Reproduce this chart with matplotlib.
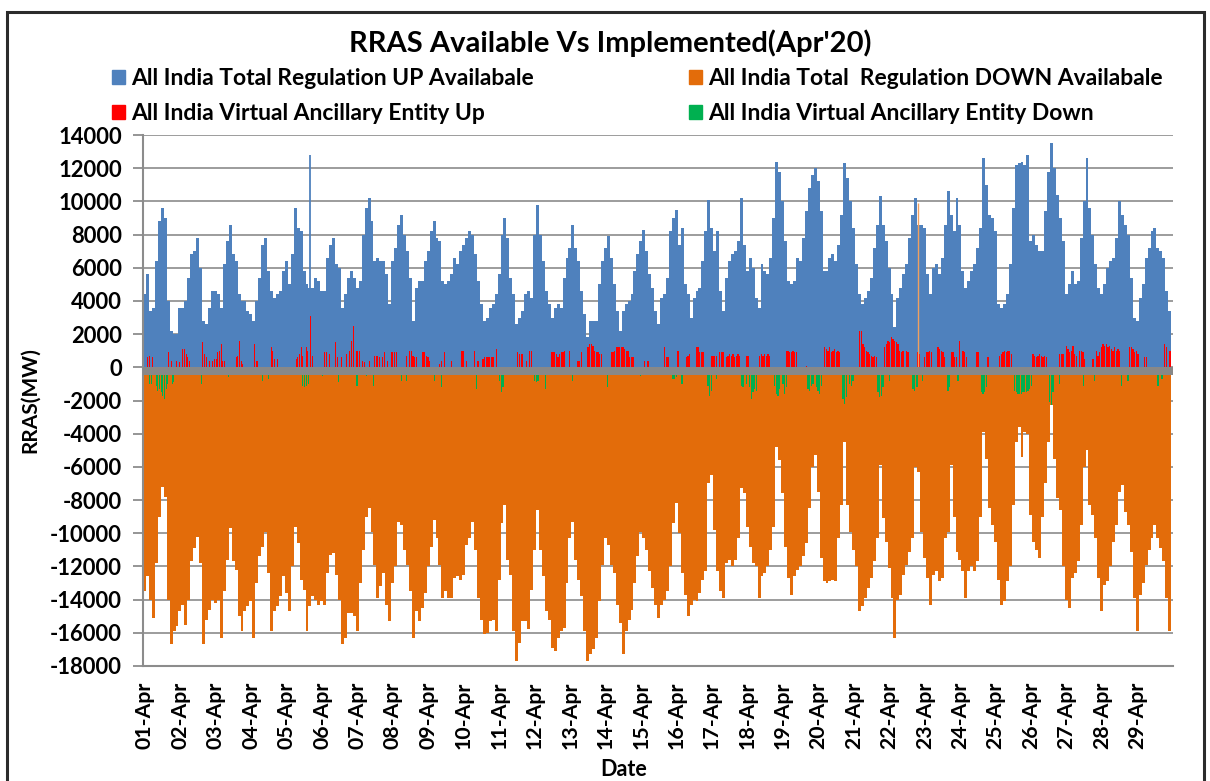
import numpy as np
import matplotlib
matplotlib.use("Agg")
import matplotlib.pyplot as plt
from matplotlib.patches import Rectangle, Patch

plt.rcParams['font.family'] = ['Lato', 'DejaVu Sans']
plt.rcParams['axes.unicode_minus'] = False

# ---------------- data (2-hour blocks, 12 per day, 01-Apr .. 29-Apr) ----------------
day_labels = ["%02d-Apr" % d for d in range(1, 30)]
blocks_per_day = 12

up_available = [
    4400, 5600, 3400, 3600, 6400, 8800, 9600, 9000, 4000, 2200, 2000, 2000,
    3600, 3600, 4000, 5400, 6800, 7000, 7800, 6000, 2800, 2600, 3600, 4600,
    4600, 4400, 3600, 6200, 7600, 8600, 6800, 6400, 4400, 4000, 4000, 3400,
    3200, 2800, 4000, 5400, 7400, 7800, 5800, 4600, 4200, 4400, 4600, 5800,
    6400, 5000, 6800, 9600, 8400, 8200, 5800, 5000, 4800, 4800, 5400, 5200,
    4600, 4600, 6600, 7400, 7800, 6200, 6000, 3600, 4400, 5400, 5800, 5400,
    4800, 5200, 8000, 9600, 10200, 8800, 6400, 6600, 6400, 6400, 5600, 3800,
    6400, 7200, 8600, 9200, 8000, 7000, 5400, 2800, 4800, 5200, 5200, 6400,
    7000, 8200, 8800, 7800, 7600, 5200, 5000, 5200, 5600, 6600, 6200, 7000,
    7400, 7800, 8200, 8000, 6800, 5200, 3800, 2800, 3000, 3600, 3800, 4400,
    5600, 8000, 9000, 7800, 5400, 4400, 2600, 3000, 3400, 4400, 4600, 4200,
    8000, 9800, 8000, 6400, 4600, 3800, 3000, 3600, 3800, 3600, 5400, 6600,
    7200, 8600, 7200, 6400, 4600, 3200, 1800, 2800, 2800, 2800, 5000, 6400,
    7200, 7900, 6600, 5000, 3400, 2200, 3400, 3800, 4000, 4400, 5800, 6800,
    7600, 8300, 7000, 5600, 4800, 3400, 2600, 4200, 4400, 5400, 8200, 9000,
    9500, 7400, 8400, 5000, 4400, 3000, 4200, 4600, 4800, 6400, 8200, 10100,
    8400, 7000, 8200, 4600, 3400, 5400, 6400, 6800, 7000, 7600, 10200, 7400,
    5800, 6600, 6000, 4200, 3600, 6200, 5800, 5600, 6600, 9000, 12400, 11800,
    10000, 7600, 5200, 5000, 5200, 6600, 6400, 7800, 9400, 10800, 11600, 12000,
    11200, 9400, 5800, 5800, 6600, 6800, 6400, 7400, 9200, 12300, 11400, 10000,
    8400, 6200, 4400, 3800, 4200, 4600, 5400, 7200, 8600, 10300, 8600, 7600,
    6000, 4400, 2400, 4200, 4800, 5600, 6200, 7800, 9200, 10200, 8600, 8600,
    8400, 5600, 4400, 6000, 6200, 5600, 6600, 8600, 10600, 9200, 8200, 10200,
    8600, 5800, 4800, 5200, 5800, 6200, 7200, 8400, 12600, 11000, 9200, 9000,
    8200, 3800, 3600, 3800, 4400, 6200, 9600, 12200, 12300, 12400, 12200, 12800,
    7600, 8000, 7400, 7000, 7000, 9400, 11800, 13500, 12000, 10400, 9000, 7600,
    4400, 5000, 5800, 5000, 5200, 7800, 10000, 12600, 9600, 8000, 6200, 4800,
    4400, 5000, 6000, 6400, 6600, 7800, 10000, 9200, 8600, 8000, 5400, 3000,
    2800, 4200, 5000, 6600, 7200, 8200, 8400, 7200, 7000, 6600, 4600, 3400,
]

down_available = [
    -13500, -12600, -14000, -15100, -11800, -9000, -7200, -7800, -14000, -16700, -15900, -15600,
    -14700, -14300, -15500, -14000, -11700, -10900, -10200, -11800, -16700, -15200, -14600, -14000,
    -14200, -14000, -16300, -13500, -11600, -9700, -11700, -12200, -15000, -15900, -14700, -14400,
    -14100, -16300, -13000, -11400, -10800, -9900, -12400, -15900, -14700, -14400, -13800, -12600,
    -13600, -14700, -12000, -9600, -10600, -12800, -13400, -15900, -14400, -13800, -14000, -14300,
    -14100, -14300, -12400, -11300, -11200, -12500, -14000, -16700, -16300, -14800, -14800, -15000,
    -15900, -13000, -11000, -9000, -8500, -9900, -11900, -13900, -13200, -12400, -14300, -15300,
    -13000, -12000, -9300, -9500, -11000, -11900, -13500, -16300, -14700, -15300, -14500, -13600,
    -12000, -10800, -9200, -10300, -11900, -13900, -13500, -13900, -13900, -12700, -12600, -12800,
    -12500, -10700, -10300, -9300, -11000, -13900, -15200, -16100, -16000, -15300, -15200, -15900,
    -12800, -9400, -8300, -11600, -12500, -15900, -17700, -16600, -15300, -15300, -15800, -13400,
    -11000, -8600, -11000, -12600, -14700, -15200, -16900, -17100, -16300, -15900, -15700, -13000,
    -10300, -9300, -11600, -12800, -13800, -15900, -17700, -17300, -17000, -16300, -14100, -11900,
    -10300, -10700, -11900, -12400, -14300, -15400, -17300, -15900, -15200, -14600, -13000, -11400,
    -9900, -10300, -11000, -12300, -13300, -14300, -15100, -14300, -14000, -13500, -12000, -9400,
    -8200, -10000, -12400, -13700, -15000, -14300, -14000, -14100, -13600, -12800, -12300, -7000,
    -6500, -9800, -12300, -13500, -13900, -11800, -11600, -12000, -11600, -10300, -7300, -7600,
    -9600, -10800, -11800, -12000, -13900, -12600, -12400, -12000, -11000, -9600, -4800, -5600,
    -7600, -10800, -12700, -13700, -12600, -12200, -12000, -11400, -10600, -8500, -6000, -5300,
    -7500, -11500, -12900, -13000, -12900, -12800, -12900, -10300, -8300, -4500, -8300, -9900,
    -11000, -12000, -14700, -14400, -13900, -13300, -12700, -11700, -10300, -5900, -9100, -10500,
    -12100, -13900, -16300, -14000, -13700, -12500, -11900, -11100, -10300, -6000, -6300, -9900,
    -11500, -12700, -14300, -12500, -12300, -12900, -12700, -10300, -9900, -5900, -9000, -11100,
    -11600, -12300, -13900, -12300, -12000, -12300, -11700, -9000, -3900, -5500, -8500, -9500,
    -10500, -12800, -14300, -14100, -12900, -12000, -8300, -4500, -3600, -5400, -3900, -4000,
    -8900, -10500, -11000, -11500, -9000, -7000, -4500, -2300, -5500, -7900, -8600, -12000,
    -14000, -14500, -12700, -12400, -11700, -9500, -6000, -5000, -8300, -8900, -10300, -12700,
    -14700, -13100, -12900, -12000, -10500, -9500, -7500, -7100, -8700, -9500, -11100, -13900,
    -15900, -13700, -13000, -11900, -11000, -10300, -9500, -10300, -10900, -11700, -13900, -15900,
]

# single-block spikes (time in days from 01-Apr 00:00, MW)
up_spike_t = [4.715]
up_spike_v = [12800]
down_spike_t = [21.87]
down_spike_v = [9900]

# Virtual Ancillary Entity Up (time in days, MW)
vae_up_t = [0.136, 0.183, 0.277, 0.729, 0.795, 0.936, 1.030, 1.124, 1.171, 1.218, 1.265, 1.312,
            1.688, 1.735, 1.782, 1.876, 1.970, 2.017, 2.064, 2.111, 2.158, 2.205, 2.252, 2.298,
            2.628, 2.675, 2.722, 2.769, 2.816, 3.145, 3.192, 3.239, 3.615, 3.662, 3.709, 3.803,
            4.321, 4.368, 4.415, 4.462, 4.509, 4.603, 4.650, 4.715, 4.772, 5.120, 5.167, 5.261,
            5.430, 5.496, 5.590, 5.731, 5.825, 5.872, 5.938, 6.013, 6.060, 6.107, 6.201, 6.248,
            6.389, 6.530, 6.577, 6.624, 6.671, 6.765, 6.812, 6.906, 7.000, 7.047, 7.094, 7.141,
            7.423, 7.517, 7.565, 7.612, 7.659, 7.706, 7.894, 7.941, 7.988, 8.035, 8.082, 8.364,
            8.411, 8.505, 8.693, 8.975, 9.022, 9.116, 9.351, 9.445, 9.586, 9.633, 9.680, 9.727,
            9.774, 9.821, 9.868, 9.962, 10.573, 10.620, 10.667, 10.714, 10.809,
            10.903, 10.950, 11.514, 11.561, 11.608, 11.655, 11.702, 11.749, 11.796, 11.843, 11.890,
            12.031, 12.266, 12.313, 12.360, 12.548, 12.595, 12.642, 12.689, 12.736, 12.783, 12.830,
            12.877, 12.924, 13.206, 13.253, 13.300, 13.347, 13.394, 13.441, 13.488, 13.535, 13.582,
            13.629, 13.676, 13.723, 13.770, 13.817, 14.147, 14.241, 14.711, 14.758, 14.805, 15.087,
            15.322, 15.369, 15.416, 15.604, 15.651, 15.698, 15.745, 15.792, 16.027, 16.074, 16.121,
            16.168, 16.262, 16.309, 16.356, 16.450, 16.497, 16.544, 16.591, 16.638, 16.685, 16.732,
            16.779, 16.826, 17.014, 17.061, 17.391, 17.438, 17.485, 17.532, 17.579, 17.626, 17.673,
            18.143, 18.190, 18.237, 18.284, 18.331, 18.378, 18.425, 18.707, 19.224, 19.271, 19.318,
            19.365, 19.412, 19.459, 19.506, 19.553, 19.600, 19.647, 20.212, 20.259, 20.306, 20.353,
            20.400, 20.447, 20.494, 20.541, 20.588, 20.635, 20.682, 20.917, 20.964, 21.011, 21.058,
            21.105, 21.152, 21.199, 21.246, 21.293,
            21.340, 21.387, 21.434, 21.528, 21.575, 21.857, 21.904, 22.045, 22.092, 22.139, 22.186,
            22.233, 22.421, 22.468, 22.515, 22.562, 22.609, 22.797, 22.844, 22.891, 22.938, 23.033,
            23.127, 23.174, 23.221, 23.503, 23.550, 23.832, 24.161, 24.208, 24.255, 24.302, 24.349,
            24.396, 24.443, 24.490, 25.101, 25.148, 25.195, 25.242, 25.289, 25.336, 25.383, 25.430,
            25.477, 25.853, 25.900, 25.947, 26.041, 26.088, 26.135, 26.182, 26.229, 26.276, 26.323,
            26.417, 26.464, 26.511, 26.558, 26.794, 26.888, 26.935, 26.982, 27.029, 27.076, 27.123,
            27.170, 27.217, 27.264, 27.311, 27.358, 27.405, 27.452, 27.499, 27.546, 27.828, 27.875,
            27.922, 27.969, 28.016, 28.063, 28.251, 28.298, 28.815, 28.862, 28.956, 28.990]
vae_up_v = [600, 700, 600, 900, 400, 400, 300, 1100, 1100, 800, 600, 400,
            1500, 800, 600, 400, 400, 500, 500, 900, 1000, 1400, 400, 400,
            600, 700, 1600, 400, 200, 1400, 400, 400, 1200, 1000, 500, 500,
            500, 600, 800, 1200, 700, 1200, 1000, 3100, 700, 900, 900, 800,
            1500, 600, 600, 800, 1000, 1600, 2500, 1000, 1000, 1000, 400, 300,
            400, 700, 700, 700, 600, 600, 900, 400, 900, 900, 900, 900,
            700, 1000, 1000, 700, 600, 600, 900, 900, 700, 600, 400, 200,
            400, 900, 400, 1000, 1000, 400, 1000, 400, 500, 600, 600, 600,
            600, 600, 600, 1100, 900, 800, 800, 800, 400,
            1000, 1000, 900, 900, 900, 800, 600, 800, 900, 900, 1000,
            1000, 400, 400, 900, 1200, 1400, 1400, 1300, 1000, 900, 900,
            800, 800, 900, 900, 1000, 1200, 1200, 1200, 1200, 1200, 1100,
            1000, 1000, 600, 600, 600, 400, 400, 1200, 600, 600, 1000,
            600, 700, 800, 1200, 1200, 900, 900, 900, 700, 700, 700,
            700, 900, 900, 900, 600, 700, 800, 700, 800, 600, 700,
            800, 700, 700, 700, 700, 800, 700, 800, 700, 800, 700,
            1000, 1000, 900, 900, 1000, 900, 900, 100, 1200, 1100, 1000,
            1200, 900, 1000, 1100, 900, 1000, 900, 2200, 2200, 1400, 1200,
            1000, 900, 800, 700, 600, 700, 600, 1200, 1400, 1600, 1500,
            1800, 1700, 1600, 1500, 1400,
            1000, 900, 1000, 1000, 900, 900, 800, 600, 900, 900, 1000,
            900, 1200, 1100, 1000, 900, 600, 900, 900, 600, 600, 1600,
            1000, 900, 600, 900, 900, 600, 700, 800, 900, 1000, 900,
            1000, 1000, 800, 800, 700, 600, 700, 800, 700, 600, 700,
            600, 800, 800, 800, 1300, 1100, 900, 1000, 1300, 800, 700,
            1000, 1000, 900, 500, 500, 1000, 700, 900, 1200, 1400, 1300,
            1400, 1200, 1300, 1100, 1000, 1200, 1000, 1100, 1000, 1200, 1200,
            1100, 900, 1000, 800, 600, 600, 1400, 1200, 1000, 1000]

# Virtual Ancillary Entity Down (time in days, MW)
vae_down_t = [0.183, 0.230, 0.371, 0.418, 0.465, 0.512, 0.559, 0.606, 0.653, 0.700, 0.842, 0.870,
              1.641, 2.421, 3.380, 3.550, 4.509, 4.556, 4.603, 4.678, 5.054, 5.524, 6.013, 6.060,
              6.295, 6.511, 7.282, 7.423, 8.222, 8.411, 9.398,
              10.057, 10.104, 10.151, 11.044, 11.091, 11.138, 11.354, 12.106, 13.093, 14.024,
              14.945, 14.992, 15.039, 15.199, 15.932, 15.979, 16.026, 16.167, 16.872, 16.919,
              17.013, 17.107, 17.154, 17.201, 17.248, 17.295, 17.813, 17.860, 17.907, 17.954,
              18.048, 18.095, 18.142, 18.753, 18.801, 18.848, 18.895, 18.989, 19.036, 19.083, 19.130,
              19.741, 19.788, 19.835, 19.929, 19.976, 20.024, 20.729, 20.776, 20.823, 20.870,
              21.058, 21.717, 21.764, 21.830, 21.980, 22.704, 22.751, 22.986, 23.644, 23.691,
              23.738, 23.785, 24.584, 24.631, 24.678, 24.725, 24.772, 24.819, 24.866, 24.913,
              24.960, 25.007, 25.054, 25.571, 25.618, 25.665, 25.853, 26.530, 26.841, 27.593,
              27.781, 28.627, 28.740]
vae_down_v = [-1000, -1000, -1100, -1400, -1300, -1500, -1700, -1900, -1300, -1000, -1000, -900,
              -1000, -600, -800, -700, -1100, -1200, -1100, -1000, -500, -900, -1100, -1100,
              -500, -1100, -800, -800, -800, -1200, -1300,
              -800, -1500, -1200, -800, -900, -800, -1300, -800, -1200, -500,
              -700, -700, -600, -1000, -1100, -1700, -1400, -700, -1100, -1200,
              -1000, -1200, -1900, -1500, -1300, -1400, -1100, -1600, -1700, -1300,
              -1000, -1600, -1200, -1300, -1400, -1100, -1000, -1200, -1400, -1600, -1100,
              -1900, -2200, -1800, -1000, -1100, -800, -1500, -1800, -1700, -1200,
              -800, -1300, -1400, -1200, -800, -1400, -1200, -800, -1500, -1600,
              -1500, -1200, -1400, -1500, -1600, -1600, -1600, -1500, -1500, -1500,
              -1400, -1300, -1100, -2100, -2300, -1500, -1000, -1100, -800, -1100,
              -800, -1100, -700]

y_ticks = list(range(-18000, 14001, 2000))
y_labels = [str(v) for v in y_ticks]

series_names = ["All India Total Regulation UP Availabale",
                "All India Virtual Ancillary Entity Up",
                "All India Total  Regulation DOWN Availabale",
                "All India Virtual Ancillary Entity Down"]
c_up, c_vae_up, c_down, c_vae_down = "#4F81BD", "#FF0000", "#E36C0A", "#00B050"

# ---------------- figure ----------------
W, H = 1210, 781
fig = plt.figure(figsize=(W / 100, H / 100), dpi=100)
ax = fig.add_axes([143 / W, 1 - 666 / H, (1173 - 143) / W, (666 - 135) / H])

edges = np.arange(len(up_available) + 1) / blocks_per_day
ax.stairs(up_available, edges, baseline=0, fill=True, color=c_up, zorder=2)
ax.stairs(down_available, edges, baseline=0, fill=True, color=c_down, zorder=2)
ax.vlines(up_spike_t, 0, up_spike_v, color=c_up, lw=1.3, zorder=2)
ax.bar(vae_up_t, vae_up_v, width=0.035, color=c_vae_up, linewidth=0, zorder=3)
ax.bar(vae_down_t, vae_down_v, width=0.035, color=c_vae_down, linewidth=0, zorder=3)
ax.vlines(down_spike_t, 0, down_spike_v, color="#F0A060", lw=1.0, zorder=3)
ax.axhspan(-480, 0, color="#888888", lw=0, zorder=4)

ax.set_xlim(0, 29.05)
ax.set_ylim(-18000, 14000)
ax.set_yticks(y_ticks)
ax.set_yticklabels(y_labels)
ax.set_xticks(np.arange(len(day_labels)) + 0.05)
ax.set_xticklabels(day_labels, rotation=90)
ax.set_axisbelow(True)
ax.yaxis.grid(True, color="#9C9C9C", lw=1.4, zorder=0)
ax.xaxis.grid(False)
for s in ["top", "right"]:
    ax.spines[s].set_visible(False)
for s in ["left", "bottom"]:
    ax.spines[s].set_color("#8C8C8C")
    ax.spines[s].set_linewidth(1.5)
ax.tick_params(axis='y', length=7, width=1.3, color="#8C8C8C", pad=8,
               labelsize=15.8)
ax.tick_params(axis='x', length=0, pad=11, labelsize=15.3)
for lab in ax.get_xticklabels() + ax.get_yticklabels():
    lab.set_fontweight('bold')

fig.text(610 / W, 1 - 43 / H, "RRAS Available Vs Implemented(Apr'20)", ha='center', va='center',
         fontsize=21, fontweight='bold')
fig.text(30 / W, 1 - 400 / H, "RRAS(MW)", ha='center', va='center', rotation=90,
         fontsize=15, fontweight='bold')
fig.text(624 / W, 1 - 770 / H, "Date", ha='center', va='center', fontsize=15.5, fontweight='bold')

leg_kw = dict(loc='upper left', frameon=False, handlelength=0.55, handleheight=0.55,
              handletextpad=0.3, labelspacing=0.62, borderpad=0, borderaxespad=0,
              prop={'weight': 'bold', 'size': 16.5})
h1 = [Patch(color=c_up), Patch(color=c_vae_up)]
h2 = [Patch(color=c_down), Patch(color=c_vae_down)]
l1 = fig.legend(h1, series_names[:2], bbox_to_anchor=(112 / W, 1 - 68 / H), **leg_kw)
l2 = fig.legend(h2, series_names[2:], bbox_to_anchor=(689 / W, 1 - 68 / H), **leg_kw)

fig.add_artist(Rectangle((7 / W, -0.05), (1204 - 7) / W, 1.05 - 12 / H, transform=fig.transFigure,
                         fill=False, lw=2.2, ec="#2B2B2B"))

fig.savefig("out.png", dpi=100)
